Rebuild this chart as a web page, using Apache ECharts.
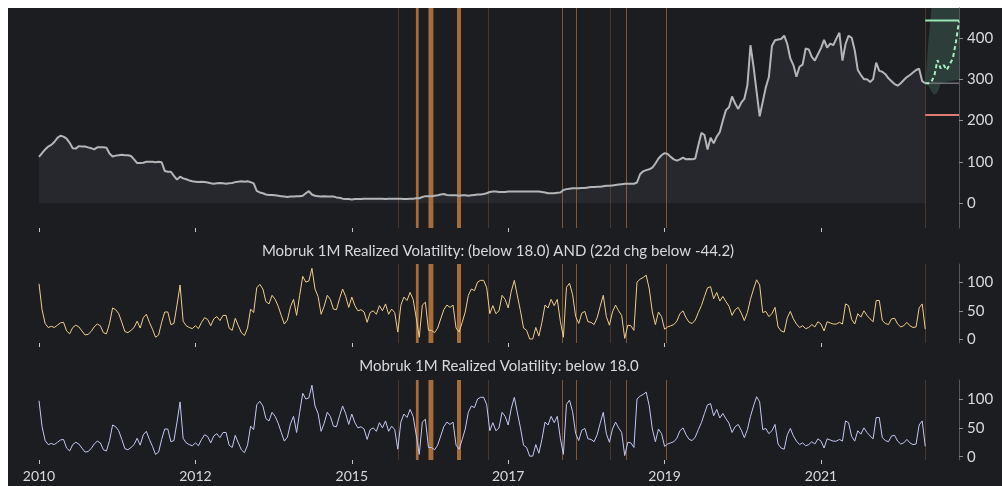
<!DOCTYPE html>
<html><head><meta charset="utf-8">
<script src="https://cdn.jsdelivr.net/npm/echarts@6/dist/echarts.min.js"></script>
<style>
html,body{margin:0;padding:0;background:#ffffff;}
#bg{position:absolute;left:8px;top:8px;width:994px;height:478px;background:#1b1d21;}
#chart{position:absolute;left:0;top:0;width:1002px;height:486px;}
</style></head>
<body><div id="bg"></div><div id="chart"></div>
<script>
// ---- data ----
const yearLabels = ['2010','2012','2015','2017','2019','2021'];
const yearTickIdx = [0, 51, 102, 153, 204, 255];
const price = [
112,121,130,137,141,148,158,163,161,156,
146,133,132,138,137,137,135,133,130,135,
135,135,134,120,113,115,116,117,116,116,
114,106,97,97,98,100,100,100,99,100,
99,78,76,76,66,57,64,60,58,55,
53,52,51,52,51,50,48,47,48,49,
48,47,48,49,51,52,53,52,53,51,
48,30,26,24,21,20,20,19,18,17,
16,15,16,16,17,17,18,24,29,21,
18,17,16,17,16,16,16,14,13,11,
10,10,9,10,10,10,11,11,11,11,
11,11,11,10,11,11,11,11,11,10,
10,11,11,12,12,15,17,17,17,18,
19,21,22,20,19,19,19,18,19,19,
18,19,20,21,21,22,24,27,28,28,
27,27,27,28,28,28,28,28,28,28,
28,28,28,28,27,26,24,24,24,25,
26,32,34,35,36,36,36,37,37,38,
39,39,40,40,41,42,42,43,44,45,
46,47,47,47,47,50,70,77,80,82,
86,96,108,116,121,119,112,106,103,106,
110,106,107,106,108,140,170,165,130,158,
145,161,172,200,225,232,258,241,228,243,
252,285,382,330,270,210,245,280,305,380,
394,396,397,405,385,350,334,306,330,335,
374,372,354,345,360,375,395,376,386,382,
398,412,345,385,405,400,370,322,310,300,
300,293,300,340,320,318,312,302,295,288,
284,290,298,305,310,316,322,325,295,290
];
const volatility = [
97,52,28,21,23,21,25,29,30,15,
10,21,25,22,15,8,9,14,22,27,
24,12,10,28,55,52,45,30,14,12,
16,21,32,20,38,44,30,18,4,8,
30,48,48,26,28,60,95,32,24,21,
19,24,19,30,38,35,24,36,40,33,
42,42,20,16,37,24,12,7,20,53,
47,90,96,88,66,62,77,70,58,42,
27,34,57,70,42,77,110,100,102,124,
88,75,44,58,77,70,53,52,71,88,
75,56,74,59,50,52,48,30,47,50,
44,59,50,62,44,53,47,13,60,74,
68,82,70,38,4,60,65,16,16,12,
20,36,52,60,56,60,20,13,30,48,
77,88,85,100,103,103,90,45,59,45,
50,77,70,55,84,103,76,50,20,16,
1,1,21,6,30,60,55,70,59,70,
32,4,91,98,78,40,28,46,49,31,
30,26,38,58,77,40,25,48,60,50,
42,2,25,24,16,100,105,108,112,88,
48,26,48,40,18,22,24,26,32,45,
50,38,30,28,34,47,59,75,90,92,
71,82,67,75,66,58,42,52,56,46,
33,47,70,88,104,95,47,49,40,45,
56,22,15,13,38,49,36,27,21,24,
19,21,26,22,31,27,15,31,29,27,
27,30,27,62,59,35,27,45,39,50,
42,36,31,68,68,33,28,26,36,37,
27,22,24,30,24,21,22,55,62,18
];
const forecastMedian = [290,290,293,310,346,326,334,322,336,350,390,440];
const forecastLower  = [290,284,270,262,268,288,292,294,295,296,297,298];
const forecastUpper  = [290,390,470,540,600,650,700,740,780,820,860,900];
const levelHigh = 442, levelLast = 290, levelLow = 213;
const eventStart = [117.1,122.9,127.0,136.3,146.3,170.4,175.0,186.2,191.3,204.6,288.9];
const eventEnd   = [117.1,123.8,128.6,137.6,146.3,170.4,175.0,186.2,191.3,204.6,288.9];
const eventKind  = ['weak','strong','strong','strong','weak','mid','mid','weak','mid','mid','weak'];
const title1 = 'Mobruk 1M Realized Volatility: (below 18.0) AND (22d chg below -44.2)';
const title2 = 'Mobruk 1M Realized Volatility: below 18.0';

// ---- chart ----
const FONT = 'Lato, "Noto Sans", sans-serif';
const xMax = 300;
const fcStart = price.length - 1;
const priceData = price.map((v, i) => [i, v]);
const volData = volatility.map((v, i) => [i, v]);
const fcX = forecastMedian.map((v, i) => fcStart + i);
const kindColor = {weak: 'rgba(150,100,55,0.38)', mid: 'rgba(170,108,55,0.72)', strong: '#a86b3a'};
const eventData = eventStart.map((s, i) => [s, eventEnd[i], 0]);

function xAxisFor(gridIndex, showLabel) {
  return {
    type: 'value', gridIndex, min: 0, max: xMax, position: 'bottom',
    axisLine: {show: false, onZero: false},
    splitLine: {show: false},
    axisTick: {show: true, length: 4, lineStyle: {color: '#c4c6c9', width: 1}, customValues: yearTickIdx},
    axisLabel: {show: showLabel, customValues: yearTickIdx, margin: 9, color: '#d8d9db', fontSize: 14, fontFamily: FONT,
      formatter: v => { const k = yearTickIdx.indexOf(Math.round(v)); return k >= 0 ? yearLabels[k] : ''; }}
  };
}
function yAxisFor(gridIndex, min, max, ticks) {
  return {
    type: 'value', gridIndex, position: 'right', min, max,
    axisLine: {show: true, onZero: false, lineStyle: {color: '#53565c', width: 1}},
    axisTick: {show: true, length: 4, lineStyle: {color: '#8a8d92'}, customValues: ticks},
    axisLabel: {customValues: ticks, margin: 8, color: '#d8d9db', fontSize: 15, fontFamily: FONT},
    splitLine: {show: false}
  };
}
function eventSeries(idx) {
  return {
    type: 'custom', xAxisIndex: idx, yAxisIndex: idx, z: 2, silent: true,
    data: eventData, encode: {x: [0, 1], y: 2},
    renderItem: (params, api) => {
      const cs = params.coordSys;
      const a = api.coord([api.value(0), 0]);
      const b = api.coord([api.value(1), 0]);
      let w = b[0] - a[0];
      let x = a[0];
      if (w < 1) { w = 1; x = Math.round(x); }
      return {type: 'rect', shape: {x, y: cs.y, width: w, height: cs.height},
        style: {fill: kindColor[eventKind[params.dataIndex]]}};
    }
  };
}

const chart = echarts.init(document.getElementById('chart'), null, {renderer: 'canvas'});
chart.setOption({
  backgroundColor: 'transparent',
  animation: false,
  grid: [
    {left: 39, top: 8, width: 920, height: 220},
    {left: 39, top: 264, width: 920, height: 79},
    {left: 39, top: 380, width: 920, height: 80}
  ],
  xAxis: [xAxisFor(0, false), xAxisFor(1, false), xAxisFor(2, true)],
  yAxis: [
    yAxisFor(0, -60, 472, [0, 100, 200, 300, 400]),
    yAxisFor(1, -6, 131.5, [0, 50, 100]),
    yAxisFor(2, -5.7, 133, [0, 50, 100])
  ],
  graphic: [
    {type: 'text', x: 498, y: 251, z: 10, style: {text: title1, fill: '#d8d9db', font: '15px ' + FONT, textAlign: 'center', textVerticalAlign: 'middle'}},
    {type: 'text', x: 499, y: 366, z: 10, style: {text: title2, fill: '#d8d9db', font: '15px ' + FONT, textAlign: 'center', textVerticalAlign: 'middle'}}
  ],
  series: [
    {type: 'line', xAxisIndex: 0, yAxisIndex: 0, z: 1, data: priceData, symbol: 'none',
     lineStyle: {width: 0, opacity: 0}, areaStyle: {color: '#26282d', opacity: 1, origin: 0}},
    eventSeries(0),
    {type: 'custom', xAxisIndex: 0, yAxisIndex: 0, z: 3, silent: true,
     data: [[fcStart, levelLast]], encode: {x: 0, y: 1},
     renderItem: (params, api) => {
       const cs = params.coordSys;
       const pts = [];
       forecastUpper.forEach((v, i) => pts.push(api.coord([fcX[i], v])));
       for (let i = forecastLower.length - 1; i >= 0; i--) pts.push(api.coord([fcX[i], forecastLower[i]]));
       return {type: 'polygon', shape: {points: pts}, style: {fill: 'rgba(85,135,112,0.32)'},
         clipPath: {type: 'rect', shape: {x: cs.x, y: cs.y, width: cs.width, height: cs.height}}};
     }},
    {type: 'line', xAxisIndex: 0, yAxisIndex: 0, z: 4, data: [[fcStart, levelLast], [xMax, levelLast]], symbol: 'none',
     lineStyle: {color: '#6d7074', width: 1.5}},
    {type: 'line', xAxisIndex: 0, yAxisIndex: 0, z: 4, data: [[fcStart, levelHigh], [xMax, levelHigh]], symbol: 'none',
     lineStyle: {color: '#98e6b4', width: 2}},
    {type: 'line', xAxisIndex: 0, yAxisIndex: 0, z: 4, data: [[fcStart, levelLow], [xMax, levelLow]], symbol: 'none',
     lineStyle: {color: '#e27a78', width: 2}},
    {type: 'line', xAxisIndex: 0, yAxisIndex: 0, z: 5, data: forecastMedian.map((v, i) => [fcX[i], v]), symbol: 'none',
     lineStyle: {color: '#a6f0c2', width: 2, type: [4, 3]}},
    {type: 'line', xAxisIndex: 0, yAxisIndex: 0, z: 5, data: priceData, symbol: 'none',
     lineStyle: {color: '#b3b5b7', width: 2}},
    eventSeries(1),
    {type: 'line', xAxisIndex: 1, yAxisIndex: 1, z: 3, data: volData, symbol: 'none',
     lineStyle: {color: '#f0cd8c', width: 1}},
    eventSeries(2),
    {type: 'line', xAxisIndex: 2, yAxisIndex: 2, z: 3, data: volData, symbol: 'none',
     lineStyle: {color: '#c4c7f3', width: 1}}
  ]
});
</script></body></html>
